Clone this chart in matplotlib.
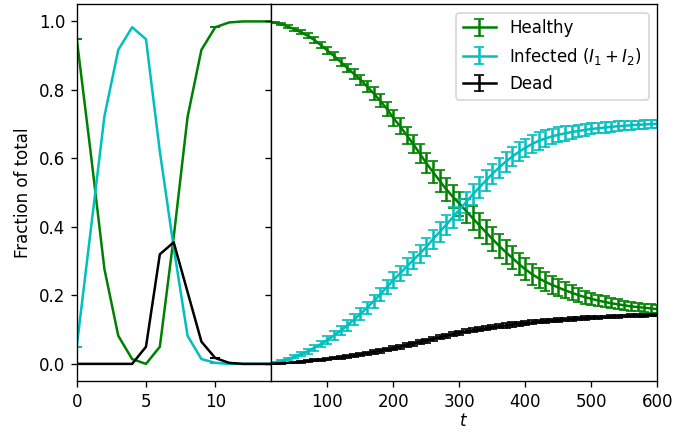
import matplotlib
matplotlib.use("Agg")
import matplotlib.pyplot as plt
import numpy as np

# ---- early phase (left panel) ----
t_early = list(range(0, 15))
healthy_early = [0.95, 0.62, 0.277, 0.082, 0.014, 0.0, 0.05, 0.37, 0.721, 0.917, 0.983, 0.997, 1.0, 1.0, 1.0]
infected_early = [0.05, 0.386, 0.723, 0.917, 0.983, 0.948, 0.62, 0.34, 0.082, 0.014, 0.003, 0.0, 0.0, 0.0, 0.0]
dead_early = [0.0, 0.0, 0.0, 0.0, 0.0, 0.05, 0.32, 0.355, 0.21, 0.065, 0.017, 0.003, 0.0, 0.0, 0.0]

# ---- long phase (right panel) ----
t_late = [14] + list(range(20, 601, 10))
healthy_late = [0.998, 0.996, 0.992, 0.985, 0.977, 0.968, 0.958, 0.946, 0.931, 0.915,
                0.899, 0.882, 0.864, 0.847, 0.830, 0.810, 0.790, 0.768, 0.745, 0.718,
                0.694, 0.668, 0.642, 0.614, 0.586, 0.560, 0.535, 0.510, 0.488, 0.468,
                0.447, 0.426, 0.405, 0.385, 0.365, 0.345, 0.327, 0.310, 0.292, 0.276,
                0.262, 0.250, 0.240, 0.231, 0.223, 0.215, 0.208, 0.201, 0.195, 0.190,
                0.185, 0.181, 0.177, 0.174, 0.171, 0.168, 0.166, 0.164, 0.162, 0.160]
healthy_err = [0.0, 0.002, 0.003, 0.004, 0.005, 0.006, 0.007, 0.008, 0.009, 0.010,
               0.011, 0.012, 0.013, 0.014, 0.015, 0.016, 0.018, 0.019, 0.020, 0.022,
               0.024, 0.025, 0.027, 0.028, 0.030, 0.031, 0.032, 0.033, 0.034, 0.035,
               0.035, 0.036, 0.036, 0.036, 0.036, 0.035, 0.035, 0.034, 0.033, 0.032,
               0.031, 0.029, 0.028, 0.026, 0.025, 0.023, 0.022, 0.020, 0.019, 0.018,
               0.017, 0.016, 0.015, 0.015, 0.014, 0.013, 0.013, 0.012, 0.012, 0.011]
infected_late = [0.002, 0.004, 0.008, 0.014, 0.021, 0.029, 0.037, 0.047, 0.058, 0.070,
                 0.083, 0.097, 0.112, 0.129, 0.146, 0.164, 0.183, 0.203, 0.224, 0.245,
                 0.264, 0.284, 0.303, 0.322, 0.342, 0.364, 0.385, 0.406, 0.428, 0.450,
                 0.472, 0.494, 0.515, 0.535, 0.555, 0.573, 0.590, 0.605, 0.619, 0.631,
                 0.642, 0.651, 0.658, 0.664, 0.669, 0.673, 0.677, 0.680, 0.683, 0.686,
                 0.688, 0.690, 0.692, 0.694, 0.695, 0.697, 0.698, 0.699, 0.700, 0.701]
infected_err = [0.0, 0.001, 0.002, 0.003, 0.005, 0.006, 0.007, 0.009, 0.010, 0.012,
                0.013, 0.014, 0.015, 0.016, 0.017, 0.018, 0.019, 0.020, 0.021, 0.022,
                0.023, 0.024, 0.025, 0.026, 0.027, 0.028, 0.029, 0.029, 0.030, 0.030,
                0.030, 0.030, 0.030, 0.030, 0.030, 0.029, 0.029, 0.028, 0.028, 0.027,
                0.026, 0.025, 0.024, 0.023, 0.022, 0.021, 0.019, 0.018, 0.017, 0.016,
                0.015, 0.015, 0.014, 0.014, 0.013, 0.013, 0.012, 0.012, 0.011, 0.011]
dead_late = [0.000, 0.001, 0.002, 0.003, 0.004, 0.006, 0.008, 0.010, 0.012, 0.014,
             0.017, 0.019, 0.022, 0.025, 0.028, 0.031, 0.035, 0.038, 0.042, 0.046,
             0.050, 0.055, 0.059, 0.064, 0.068, 0.073, 0.078, 0.082, 0.087, 0.091,
             0.095, 0.098, 0.101, 0.104, 0.107, 0.110, 0.112, 0.115, 0.117, 0.119,
             0.121, 0.123, 0.125, 0.126, 0.128, 0.129, 0.131, 0.132, 0.134, 0.135,
             0.136, 0.137, 0.138, 0.139, 0.140, 0.141, 0.141, 0.142, 0.143, 0.143]
dead_err = [0.0, 0.001, 0.001, 0.001, 0.002, 0.002, 0.002, 0.003, 0.003, 0.003,
            0.003, 0.004, 0.004, 0.004, 0.004, 0.005, 0.005, 0.005, 0.005, 0.005,
            0.006, 0.006, 0.006, 0.006, 0.006, 0.006, 0.006, 0.006, 0.006, 0.006,
            0.006, 0.006, 0.006, 0.006, 0.006, 0.006, 0.006, 0.006, 0.006, 0.006,
            0.006, 0.005, 0.005, 0.005, 0.005, 0.005, 0.005, 0.005, 0.005, 0.005,
            0.004, 0.004, 0.004, 0.004, 0.004, 0.004, 0.004, 0.004, 0.004, 0.004]

labels = ["Healthy", r"Infected ($I_1+I_2$)", "Dead"]
colors = ["g", "c", "k"]

fig = plt.figure(figsize=(673 / 120, 432 / 120), dpi=120)
gs = fig.add_gridspec(1, 2, width_ratios=[194, 386.6], wspace=0,
                      left=76.7 / 673, right=657.3 / 673,
                      top=1 - 4.3 / 432, bottom=1 - 381 / 432)
ax1 = fig.add_subplot(gs[0])
ax2 = fig.add_subplot(gs[1], sharey=ax1)

for y, c in zip([healthy_early, infected_early, dead_early], colors):
    ax1.errorbar(t_early, y, yerr=0.0, color=c, capsize=3, errorevery=10, lw=1.5)

for y, e, c, lab in zip([healthy_late, infected_late, dead_late],
                        [healthy_err, infected_err, dead_err], colors, labels):
    ax2.errorbar(t_late, y, yerr=e, color=c, capsize=3, lw=1.5, label=lab)

ax1.set_xlim(0, 14)
ax1.set_xticks([0, 5, 10])
ax1.set_ylim(-0.05, 1.05)
ax1.set_ylabel("Fraction of total")
ax2.set_xlim(14, 600)
ax2.set_xticks([100, 200, 300, 400, 500, 600])
ax2.tick_params(axis="y", labelleft=False)
ax2.set_xlabel("$t$", labelpad=1)
ax2.legend(loc="upper right")

fig.savefig("out.png", dpi=120)
